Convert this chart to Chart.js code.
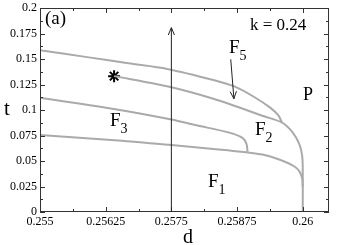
<!DOCTYPE html>
<html>
<head>
<meta charset="utf-8">
<script src="https://cdn.jsdelivr.net/npm/chart.js@4.4.0/dist/chart.umd.min.js"></script>
<style>
  html, body { margin: 0; padding: 0; background: #fff; }
</style>
</head>
<body>
<canvas id="chart" width="337" height="245"></canvas>
<script>
// phase boundaries (d, t)
const curveAD = [0.255, 0.25593, 0.25668, 0.25742, 0.2583, 0.25872, 0.2591, 0.25938, 0.25954, 0.2596];
const curveAT = [0.1587, 0.1516, 0.1458, 0.1403, 0.1294, 0.1226, 0.112, 0.1023, 0.0945, 0.0878];

const curveBD = [0.25641, 0.25742, 0.2583, 0.25928, 0.2596, 0.25976, 0.25987, 0.25995, 0.25999, 0.26, 0.26];
const curveBT = [0.1332, 0.1233, 0.111, 0.0936, 0.0878, 0.081, 0.0732, 0.0645, 0.0548, 0.0452, 0];

const curveCD = [0.255, 0.25649, 0.2575, 0.25798, 0.25860, 0.25886, 0.25893, 0.25895];
const curveCT = [0.112, 0.1003, 0.0907, 0.085, 0.0778, 0.0725, 0.0667, 0.0589];

const curveDD = [0.255, 0.25649, 0.2575, 0.2583, 0.25892, 0.25929, 0.25966, 0.25985, 0.25994, 0.25999, 0.26];
const curveDT = [0.0754, 0.0702, 0.0657, 0.0618, 0.0585, 0.0556, 0.0493, 0.0444, 0.0396, 0.0329, 0.0251];

const starD = [0.25641];
const starT = [0.1332];

const arrowD = [0.2575, 0.2575];
const arrowT = [0, 0.1807];
const f5ArrowD = [0.25863, 0.25869];
const f5ArrowT = [0.1497, 0.111];

const xTicks = [0.255, 0.25625, 0.2575, 0.25875, 0.26];
const xTickLabels = ['0.255', '0.25625', '0.2575', '0.25875', '0.26'];
const xMinorTicks = [0.255625, 0.256875, 0.258125, 0.259375];
const yTicks = [0, 0.025, 0.05, 0.075, 0.1, 0.125, 0.15, 0.175, 0.2];
const yTickLabels = ['0', '0.025', '0.05', '0.075', '0.1', '0.125', '0.15', '0.175', '0.2'];
const yMinorTicks = [0.0125, 0.0375, 0.0625, 0.0875, 0.1125, 0.1375, 0.1625, 0.1875];

const pts = (xs, ys) => xs.map((v, i) => ({ x: v, y: ys[i] }));

const curveStyle = {
  borderColor: '#aaaaaa',
  borderWidth: 2,
  pointRadius: 0,
  tension: 0.3,
  fill: false,
};

const serif = '"Liberation Serif", "Times New Roman", serif';

const drawArrow = (ctx, x1, y1, x2, y2) => {
  const ang = Math.atan2(y2 - y1, x2 - x1);
  ctx.beginPath();
  ctx.moveTo(x1, y1);
  ctx.lineTo(x2, y2);
  ctx.moveTo(x2 - 8 * Math.cos(ang - 0.4), y2 - 8 * Math.sin(ang - 0.4));
  ctx.lineTo(x2, y2);
  ctx.lineTo(x2 - 8 * Math.cos(ang + 0.4), y2 - 8 * Math.sin(ang + 0.4));
  ctx.stroke();
};

const subLabel = (ctx, main, sub, x, y) => {
  ctx.font = '19px ' + serif;
  ctx.fillText(main, x, y);
  const w = ctx.measureText(main).width;
  ctx.font = '14px ' + serif;
  ctx.fillText(sub, x + w, y + 7);
};

const framePlugin = {
  id: 'frame',
  afterDatasetsDraw(chart) {
    const { ctx, chartArea: a, scales: { x, y } } = chart;
    ctx.save();
    ctx.strokeStyle = '#333';
    ctx.lineWidth = 1;
    ctx.strokeRect(a.left + 0.5, a.top + 0.5, a.right - a.left - 1, a.bottom - a.top - 1);

    const xt = (v, len) => {
      const px = Math.round(x.getPixelForValue(v)) + 0.5;
      ctx.beginPath();
      ctx.moveTo(px, a.bottom); ctx.lineTo(px, a.bottom - len);
      ctx.moveTo(px, a.top); ctx.lineTo(px, a.top + len);
      ctx.stroke();
    };
    const yt = (v, len) => {
      const py = Math.round(y.getPixelForValue(v)) + 0.5;
      ctx.beginPath();
      ctx.moveTo(a.left, py); ctx.lineTo(a.left + len, py);
      ctx.moveTo(a.right, py); ctx.lineTo(a.right - len, py);
      ctx.stroke();
    };
    xTicks.forEach(v => xt(v, 5));
    xMinorTicks.forEach(v => xt(v, 3));
    yTicks.forEach(v => yt(v, 5));
    yMinorTicks.forEach(v => yt(v, 3));

    // arrows
    ctx.strokeStyle = '#222';
    ctx.lineWidth = 1;
    drawArrow(ctx, x.getPixelForValue(arrowD[0]), y.getPixelForValue(arrowT[0]),
      x.getPixelForValue(arrowD[1]), y.getPixelForValue(arrowT[1]));
    drawArrow(ctx, x.getPixelForValue(f5ArrowD[0]), y.getPixelForValue(f5ArrowT[0]),
      x.getPixelForValue(f5ArrowD[1]), y.getPixelForValue(f5ArrowT[1]));

    // text
    ctx.fillStyle = '#000';
    ctx.textBaseline = 'alphabetic';
    ctx.textAlign = 'left';
    ctx.font = '19px ' + serif;
    ctx.fillText('(a)', 45, 24);
    ctx.font = '17px ' + serif;
    ctx.fillText('k = 0.24', 250, 30);
    ctx.font = '18px ' + serif;
    ctx.fillText('P', 303, 100);
    subLabel(ctx, 'F', '5', 229, 53);
    subLabel(ctx, 'F', '2', 255, 135);
    subLabel(ctx, 'F', '3', 110, 126);
    subLabel(ctx, 'F', '1', 208, 187);
    ctx.font = '21px ' + serif;
    ctx.fillText('t', 4, 115);
    ctx.font = '20px ' + serif;
    ctx.fillText('d', 183, 243);
    ctx.restore();
  }
};

new Chart(document.getElementById('chart'), {
  type: 'line',
  data: {
    datasets: [
      { data: pts(curveAD, curveAT), ...curveStyle },
      { data: pts(curveBD, curveBT), ...curveStyle },
      { data: pts(curveCD, curveCT), ...curveStyle },
      { data: pts(curveDD, curveDT), ...curveStyle },
      {
        data: pts(starD, starT),
        showLine: false,
        pointStyle: 'star',
        pointRadius: 6,
        borderColor: '#000',
        backgroundColor: '#000',
        pointBorderWidth: 2,
      },
    ],
  },
  options: {
    responsive: false,
    animation: false,
    layout: { padding: { top: 5, right: 2, left: 0, bottom: 0 } },
    plugins: {
      legend: { display: false },
      tooltip: { enabled: false },
    },
    scales: {
      x: {
        type: 'linear',
        min: 0.255,
        max: 0.2605,
        grid: { display: false, drawTicks: false },
        border: { display: false },
        afterBuildTicks: (scale) => { scale.ticks = xTicks.map(v => ({ value: v })); },
        afterFit: (scale) => { scale.height = 33; scale.paddingLeft = 0; scale.paddingRight = 0; },
        ticks: {
          autoSkip: false,
          maxRotation: 0,
          padding: 3,
          color: '#000',
          font: { family: serif, size: 12 },
          callback: (v, i) => xTickLabels[i],
        },
      },
      y: {
        type: 'linear',
        min: 0,
        max: 0.2,
        grid: { display: false, drawTicks: false },
        border: { display: false },
        afterBuildTicks: (scale) => { scale.ticks = yTicks.map(v => ({ value: v })); },
        afterFit: (scale) => { scale.width = 40; scale.paddingTop = 0; scale.paddingBottom = 0; },
        ticks: {
          autoSkip: false,
          padding: 3,
          color: '#000',
          font: { family: serif, size: 12 },
          callback: (v, i) => yTickLabels[i],
        },
      },
    },
  },
  plugins: [framePlugin],
});
</script>
</body>
</html>
